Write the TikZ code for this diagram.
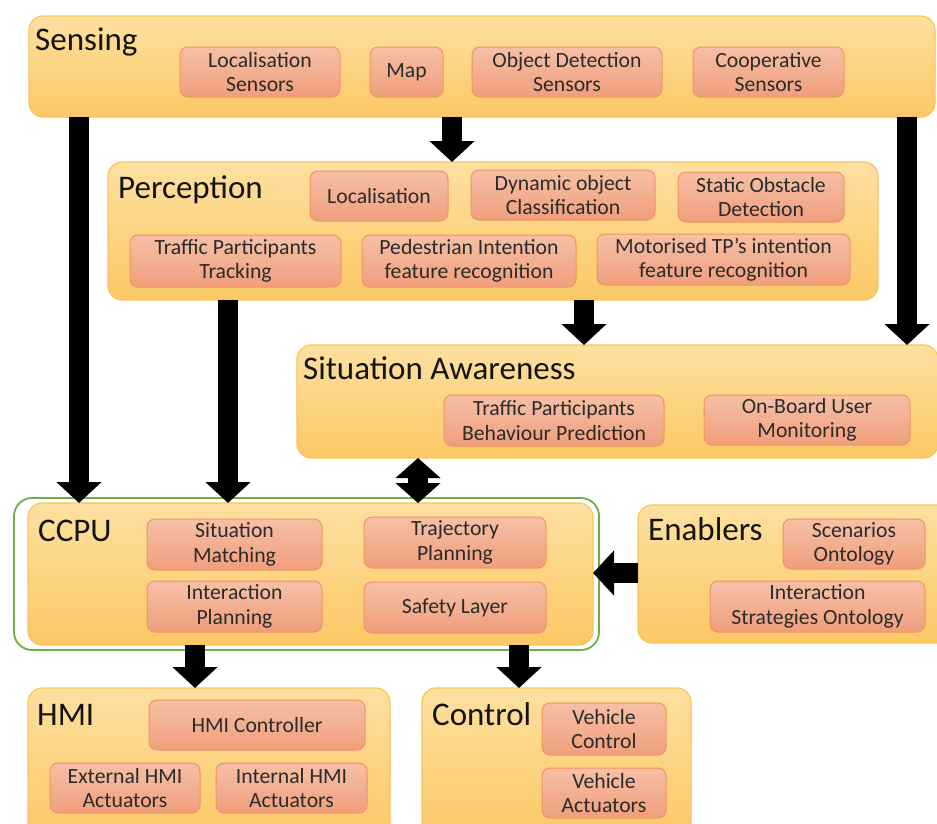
\documentclass[tikz,border=0pt]{standalone}
\usepackage{fontspec}
\setmainfont{Carlito}
\usetikzlibrary{arrows.meta}
\definecolor{bigtop}{HTML}{FEE0A0}
\definecolor{bigbot}{HTML}{FBC865}
\definecolor{bigline}{HTML}{F9C45C}
\definecolor{subtop}{HTML}{F6C0A6}
\definecolor{subbot}{HTML}{F09E7C}
\definecolor{subline}{HTML}{F29460}
\definecolor{ccpugreen}{HTML}{70AD47}
\definecolor{subtext}{HTML}{2B2B2B}
\newcommand\mkbox[7]{%
  \node[#1, minimum width={(#5-#3)*1pt}, minimum height={(#6-#4)*1pt}, anchor=north west] (#2) at (#3,#4) {#7};}
\tikzset{
  big/.style={draw=bigline, line width=1.2pt, rounded corners=14pt, top color=bigtop, bottom color=bigbot, inner sep=0pt, outer sep=0pt},
  sub/.style={draw=subline, line width=1pt, rounded corners=8pt, top color=subtop, bottom color=subbot, inner sep=0pt, outer sep=0pt, align=center, text=subtext, font=\fontsize{21.7}{24.5}\selectfont},
  ttl/.style={anchor=base west, inner sep=0pt, text=black!92, font=\fontsize{33}{36}\selectfont},
  bigarrow/.style={line width=20pt, -{Triangle[width=44pt,length=21pt]}},
  dblarrow/.style={line width=20pt, {Triangle[width=44pt,length=20pt]}-{Triangle[width=44pt,length=20pt]}},
}
\begin{document}
\begin{tikzpicture}[x=1pt,y=-1pt]
\useasboundingbox (0,0) rectangle (937,823);
% Sensing
\mkbox{big}{sensing}{29}{16}{935}{117}{}
\node[ttl] (sensingT) at (35,50) {Sensing};
\mkbox{sub}{locs}{180}{47}{340}{97}{Localisation\\Sensors}
\mkbox{sub}{map}{370}{47}{443}{97}{Map}
\mkbox{sub}{ods}{472}{47}{662}{97}{Object Detection\\Sensors}
\mkbox{sub}{coop}{693}{47}{844}{97}{Cooperative\\Sensors}
% Perception
\mkbox{big}{perc}{108}{162}{878}{300}{}
\node[ttl] (percT) at (118,198) {Perception};
\mkbox{sub}{loc}{310}{171}{448}{221}{Localisation}
\mkbox{sub}{dyn}{471}{170}{655}{220}{Dynamic object\\Classification}
\mkbox{sub}{stat}{678}{172}{844}{222}{Static Obstacle\\Detection}
\mkbox{sub}{tpt}{130}{235}{341}{287}{Traffic Participants\\Tracking}
\mkbox{sub}{ped}{362}{235}{576}{287}{Pedestrian Intention\\feature recognition}
\mkbox{sub}{mot}{597}{234}{850}{285}{Motorised TP{\char"0027}s intention\\feature recognition}
% Situation Awareness
\mkbox{big}{sa}{297}{345}{938}{458}{}
\node[ttl] (saT) at (303,379) {Situation Awareness};
\mkbox{sub}{tpbp}{444}{395}{664}{446}{Traffic Participants\\Behaviour Prediction}
\mkbox{sub}{obum}{704}{395}{910}{445}{On-Board User\\Monitoring}
% CCPU
\node[draw=ccpugreen, line width=1.8pt, rounded corners=18pt, minimum width=585pt, minimum height=152pt, anchor=north west, inner sep=0pt, outer sep=0pt] (green) at (14,498) {};
\mkbox{big}{ccpu}{28}{503}{593}{645}{}
\node[ttl] (ccpuT) at (38,541) {CCPU};
\mkbox{sub}{sm}{147}{519}{322}{570}{Situation\\Matching}
\mkbox{sub}{tp}{364}{517}{546}{568}{Trajectory\\Planning}
\mkbox{sub}{ip}{147}{581}{322}{632}{Interaction\\Planning}
\mkbox{sub}{sl}{364}{582}{546}{633}{Safety Layer}
% Enablers
\mkbox{big}{ena}{638}{505}{950}{643}{}
\node[ttl] (enaT) at (648,540) {Enablers};
\mkbox{sub}{scen}{783}{519}{925}{569}{Scenarios\\Ontology}
\mkbox{sub}{iso}{710}{581}{925}{632}{Interaction\\Strategies Ontology}
% HMI
\mkbox{big}{hmi}{28}{688}{390}{840}{}
\node[ttl] (hmiT) at (37,725) {HMI};
\mkbox{sub}{hmic}{149}{700}{365}{750}{HMI Controller}
\mkbox{sub}{ext}{50}{763}{200}{813}{External HMI\\Actuators}
\mkbox{sub}{int}{216}{763}{367}{813}{Internal HMI\\Actuators}
% Control
\mkbox{big}{ctrl}{422}{688}{691}{840}{}
\node[ttl] (ctrlT) at (432,725) {Control};
\mkbox{sub}{vc}{542}{703}{666}{755}{Vehicle\\Control}
\mkbox{sub}{va}{542}{768}{666}{818}{Vehicle\\Actuators}
% arrow columns
\coordinate (xa) at (79,0);
\coordinate (xb) at (452,0);
\coordinate (xc) at (907,0);
\coordinate (xd) at (228,0);
\coordinate (xe) at (584,0);
\coordinate (xf) at (418,0);
\coordinate (xg) at (195,0);
\coordinate (xh) at (519,0);
\coordinate (yi) at (0,573);
\draw[bigarrow] (sensing.south -| xa) -- (ccpu.north -| xa);
\draw[bigarrow] (sensing.south -| xb) -- (perc.north -| xb);
\draw[bigarrow] (sensing.south -| xc) -- (sa.north -| xc);
\draw[bigarrow] (perc.south -| xd) -- (ccpu.north -| xd);
\draw[bigarrow] (perc.south -| xe) -- (sa.north -| xe);
\draw[dblarrow] (sa.south -| xf) -- (ccpu.north -| xf);
\draw[bigarrow] (ena.west |- yi) -- (ccpu.east |- yi);
\draw[bigarrow] (ccpu.south -| xg) -- (hmi.north -| xg);
\draw[bigarrow] (ccpu.south -| xh) -- (ctrl.north -| xh);
\end{tikzpicture}
\end{document}
